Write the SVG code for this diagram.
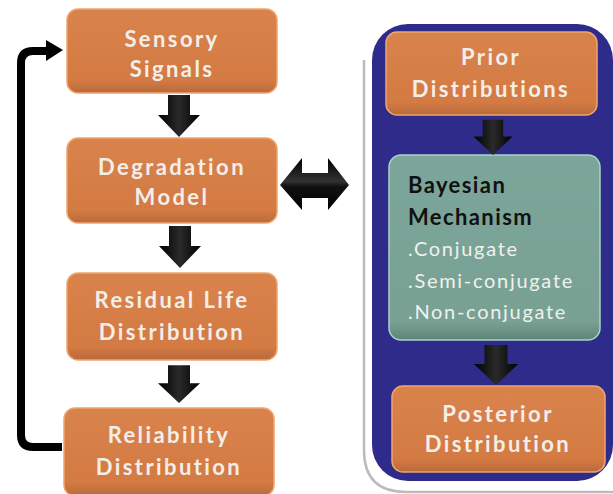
<svg xmlns="http://www.w3.org/2000/svg" width="613" height="494" viewBox="0 0 613 494">
<defs>
<linearGradient id="og" x1="0" y1="0" x2="0" y2="1">
<stop offset="0" stop-color="#D9834C"/><stop offset="0.85" stop-color="#D47A43"/><stop offset="1" stop-color="#B86A3C"/>
</linearGradient>
<linearGradient id="tg" x1="0" y1="0" x2="0" y2="1">
<stop offset="0" stop-color="#7DA69A"/><stop offset="0.9" stop-color="#78A194"/><stop offset="1" stop-color="#5F8478"/>
</linearGradient>
<linearGradient id="ag" x1="0" y1="0" x2="1" y2="0">
<stop offset="0" stop-color="#000"/><stop offset="0.5" stop-color="#2a2a2a"/><stop offset="1" stop-color="#000"/>
</linearGradient>
<linearGradient id="dg" x1="0" y1="0" x2="0" y2="1">
<stop offset="0" stop-color="#000"/><stop offset="0.45" stop-color="#333"/><stop offset="0.55" stop-color="#111"/><stop offset="1" stop-color="#000"/>
</linearGradient>
<path id="down" d="M-11,-42 H11 V-22 H21 L0,0 L-21,-22 H-11 Z"/>
</defs>
<style>
.ob{fill:url(#og);stroke:#F0A56C;stroke-width:1.5}
.tb{fill:url(#tg);stroke:#A9D3C6;stroke-width:1.5}
.wt{font-family:Lato,"Liberation Sans",sans-serif;font-weight:bold;font-size:22px;fill:#F3EEEA;text-anchor:middle;letter-spacing:2.4px}
.bt{font-family:Lato,"Liberation Sans",sans-serif;font-weight:bold;font-size:22px;fill:#111;letter-spacing:1.4px}
.lt{font-family:Lato,"Liberation Sans",sans-serif;font-size:20px;fill:#EEF2EF;letter-spacing:1.7px}
.arr{fill:url(#ag)}
</style>
<rect width="613" height="494" fill="#fff"/>
<g id="panel">
<path d="M364,60 V450 Q364,492 406,492 H613" fill="none" stroke="#bbb" stroke-width="2.5"/>
<rect x="372" y="24" width="241" height="457" rx="36" fill="#2E2B8B"/>
</g>
<g id="sensory">
<rect class="ob" x="67" y="9" width="210" height="84" rx="11"/>
<text class="wt" x="172" y="47">Sensory</text>
<text class="wt" x="172" y="77">Signals</text>
</g>
<g id="degradation">
<rect class="ob" x="67" y="138" width="210" height="85" rx="11"/>
<text class="wt" x="172" y="175">Degradation</text>
<text class="wt" x="172" y="205">Model</text>
</g>
<g id="residual">
<rect class="ob" x="67" y="273" width="210" height="87" rx="11"/>
<text class="wt" x="172" y="308">Residual Life</text>
<text class="wt" x="172" y="340">Distribution</text>
</g>
<g id="reliability">
<rect class="ob" x="64" y="408" width="210" height="88" rx="11"/>
<text class="wt" x="169" y="443">Reliability</text>
<text class="wt" x="169" y="475">Distribution</text>
</g>
<g id="prior">
<rect class="ob" x="386" y="32" width="211" height="83" rx="11"/>
<text class="wt" x="491" y="65">Prior</text>
<text class="wt" x="491" y="97">Distributions</text>
</g>
<g id="bayesian">
<rect class="tb" x="389" y="155" width="211" height="185" rx="12"/>
<text class="bt" x="408" y="193">Bayesian</text>
<text class="bt" x="408" y="225">Mechanism</text>
<text class="lt" x="408" y="256">.Conjugate</text>
<text class="lt" x="408" y="288">.Semi-conjugate</text>
<text class="lt" x="408" y="319">.Non-conjugate</text>
</g>
<g id="posterior">
<rect class="ob" x="392" y="386" width="213" height="86" rx="11"/>
<text class="wt" x="498" y="422">Posterior</text>
<text class="wt" x="498" y="452">Distribution</text>
</g>
<g id="connectors">
<use href="#down" class="arr" transform="translate(179,137)"/>
<use href="#down" class="arr" transform="translate(180,268)"/>
<use href="#down" class="arr" transform="translate(179,403) scale(1,0.9)"/>
<use href="#down" class="arr" transform="translate(493,155) scale(0.93,0.84)"/>
<use href="#down" class="arr" transform="translate(496,385) scale(1.05,0.95)"/>
<path d="M280,185 L302,158 V173 H328 V158 L349,185 L328,210 V198 H302 V210 Z" fill="url(#dg)"/>
<path d="M62,447 H33 Q21,447 21,435 V63 Q21,51 33,51 H50" fill="none" stroke="#000" stroke-width="8"/>
<path d="M46,40 L63,50 L46,61 Z" fill="#000"/>
</g>
</svg>
